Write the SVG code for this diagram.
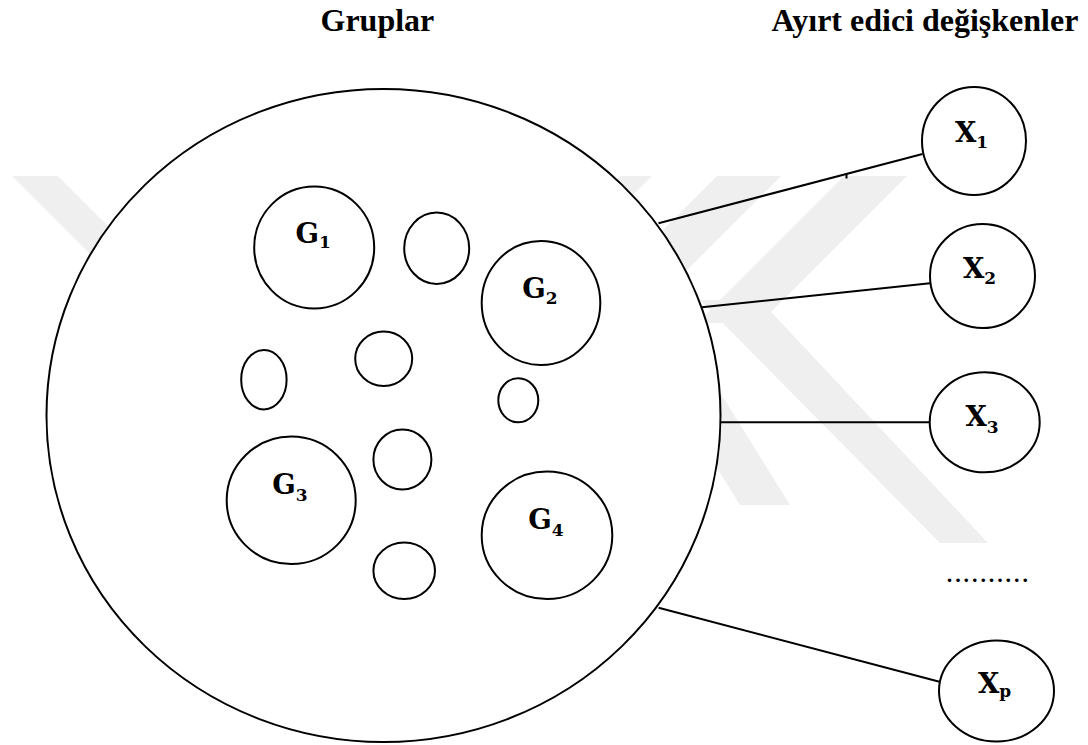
<svg xmlns="http://www.w3.org/2000/svg" width="1088" height="745" viewBox="0 0 1088 745">
<style>
.wm{fill:#efefef;stroke:none}
.sh{fill:#fff;stroke:#000;stroke-width:2}
.ln{stroke:#000;stroke-width:2;fill:none}
.title{font-family:"Liberation Serif","Times New Roman",serif;font-weight:bold;font-size:32px;fill:#000}
.lab{font-family:"DejaVu Serif",serif;font-weight:bold;font-size:27.5px;fill:#000}
.sub{font-size:17px}
.dots{font-family:"Liberation Serif","Times New Roman",serif;font-weight:bold;font-size:22px;letter-spacing:2.9px;fill:#000}
</style>
<rect width="1088" height="745" fill="#fff"/>
<g id="watermark">
<polygon class="wm" points="12,176 58,176 300,418 254,418"/>
<polygon class="wm" points="620,176 652,176 560,268 528,268"/>
<polygon class="wm" points="717,176 781,176 640,317 576,317"/>
<polygon class="wm" points="844,176 907,176 760,323 697,323"/>
<polygon class="wm" points="700,300 760,300 988,543 940,543"/>
<polygon class="wm" points="650,360 700,360 790,505 740,505"/>
</g>
<g id="connectors">
<line class="ln" x1="658.5" y1="223.3" x2="922.5" y2="154"/>
<line class="ln" x1="846.5" y1="174" x2="846.5" y2="178.5" stroke-width="1.5"/>
<line class="ln" x1="701.9" y1="307.3" x2="930" y2="283.3"/>
<line class="ln" x1="719.9" y1="422.3" x2="930" y2="422.3"/>
<line class="ln" x1="658.6" y1="607.7" x2="939.5" y2="681.7"/>
</g>
<g id="titles">
<text class="title" x="320.5" y="31">Gruplar</text>
<text class="title" x="771.5" y="31">Ayırt edici değişkenler</text>
</g>
<g id="groups">
<ellipse class="sh" cx="383.5" cy="415.5" rx="337" ry="326.5"/>
</g>
<g id="G1"><ellipse class="sh" cx="314.2" cy="247.5" rx="60" ry="61"/>
<text class="lab" x="295.5" y="243.3">G<tspan class="sub" dy="5">1</tspan></text></g>
<g id="s1"><ellipse class="sh" cx="436.7" cy="248.3" rx="32.5" ry="35.7"/></g>
<g id="G2"><ellipse class="sh" cx="541" cy="303" rx="59.3" ry="62"/>
<text class="lab" x="522.2" y="298.3">G<tspan class="sub" dy="5.5">2</tspan></text></g>
<g id="s2"><ellipse class="sh" cx="263.9" cy="379.7" rx="22.7" ry="29.7"/></g>
<g id="s3"><ellipse class="sh" cx="383.7" cy="358.8" rx="28.5" ry="27.2"/></g>
<g id="s4"><ellipse class="sh" cx="518.3" cy="400.3" rx="20" ry="22"/></g>
<g id="s5"><ellipse class="sh" cx="402.4" cy="459.5" rx="29" ry="30"/></g>
<g id="G3"><ellipse class="sh" cx="291.2" cy="500.3" rx="64.5" ry="63.7"/>
<text class="lab" x="272.2" y="494">G<tspan class="sub" dy="6.5">3</tspan></text></g>
<g id="s6"><ellipse class="sh" cx="404.2" cy="570.8" rx="30.8" ry="28.2"/></g>
<g id="G4"><ellipse class="sh" cx="547" cy="535.3" rx="65.3" ry="63.7"/>
<text class="lab" x="528.2" y="529.3">G<tspan class="sub" dy="7">4</tspan></text></g>
<g id="X1"><ellipse class="sh" cx="974" cy="141" rx="52" ry="54"/>
<text class="lab" x="955" y="142.3">X<tspan class="sub" dy="6">1</tspan></text></g>
<g id="X2"><ellipse class="sh" cx="982.5" cy="276" rx="52.5" ry="52"/>
<text class="lab" x="963" y="277.7">X<tspan class="sub" dy="6.3">2</tspan></text></g>
<g id="X3"><ellipse class="sh" cx="984.7" cy="422.3" rx="55" ry="50"/>
<text class="lab" x="965.5" y="426">X<tspan class="sub" dy="6.7">3</tspan></text></g>
<g id="dots"><text class="dots" x="946.8" y="582">..........</text></g>
<g id="Xp"><ellipse class="sh" cx="996.5" cy="691" rx="57.5" ry="50.5"/>
<text class="lab" x="978" y="693.3">X<tspan class="sub" dy="3.5">p</tspan></text></g>
</svg>
